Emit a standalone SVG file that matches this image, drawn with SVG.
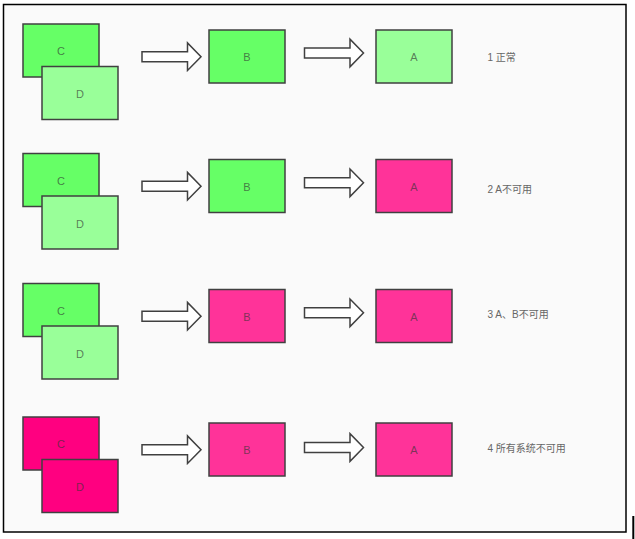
<svg xmlns="http://www.w3.org/2000/svg" width="635" height="539" viewBox="0 0 635 539">
<style>
.n{stroke:#404040;stroke-width:1.5}
.g1{fill:#66ff66}.g2{fill:#99ff99}.p1{fill:#ff3399}.p2{fill:#ff0080}
.nt{font-family:"Liberation Sans","Noto Sans CJK SC",sans-serif;font-size:11px;fill:#333;fill-opacity:0.65;text-anchor:middle}
.lb{font-family:"Liberation Sans","Noto Sans CJK SC",sans-serif;font-size:10px;fill:#666}
.ar{fill:#ffffff;stroke:#404040;stroke-width:1.5;stroke-linejoin:miter}
</style>
<defs>
<path id="arrow" d="M0,-5 H45.5 V-13.8 L59,0 L45.5,13.8 V5 H0 Z"/>
</defs>
<rect x="3.5" y="4.5" width="622.5" height="527.5" fill="#fafafa" stroke="#000" stroke-width="1.5"/>
<line x1="633.3" y1="516" x2="633.3" y2="539" stroke="#000" stroke-width="2"/>

<g id="row1">
<g id="r1-C"><rect class="n g1" x="23" y="24" width="76" height="53"/><text class="nt" x="61" y="55">C</text></g>
<g id="r1-D"><rect class="n g2" x="42" y="66.5" width="76" height="53"/><text class="nt" x="80" y="98">D</text></g>
<g id="r1-B"><rect class="n g1" x="209" y="30" width="76" height="53"/><text class="nt" x="247" y="61">B</text></g>
<g id="r1-A"><rect class="n g2" x="376" y="30" width="76" height="53"/><text class="nt" x="414" y="61">A</text></g>
<text class="lb" x="487.5" y="60.5">1 正常</text>
</g>

<g id="row2" transform="translate(0,129.5)">
<g id="r2-C"><rect class="n g1" x="23" y="24" width="76" height="53"/><text class="nt" x="61" y="55">C</text></g>
<g id="r2-D"><rect class="n g2" x="42" y="66.5" width="76" height="53"/><text class="nt" x="80" y="98">D</text></g>
<g id="r2-B"><rect class="n g1" x="209" y="30" width="76" height="53"/><text class="nt" x="247" y="61">B</text></g>
<g id="r2-A"><rect class="n p1" x="376" y="30" width="76" height="53"/><text class="nt" x="414" y="61">A</text></g>
<text class="lb" x="487.5" y="63.5">2 A不可用</text>
</g>

<g id="row3" transform="translate(0,259.5)">
<g id="r3-C"><rect class="n g1" x="23" y="24" width="76" height="53"/><text class="nt" x="61" y="55">C</text></g>
<g id="r3-D"><rect class="n g2" x="42" y="66.5" width="76" height="53"/><text class="nt" x="80" y="98">D</text></g>
<g id="r3-B"><rect class="n p1" x="209" y="30" width="76" height="53"/><text class="nt" x="247" y="61">B</text></g>
<g id="r3-A"><rect class="n p1" x="376" y="30" width="76" height="53"/><text class="nt" x="414" y="61">A</text></g>
<text class="lb" x="487.5" y="58.5">3 A、B不可用</text>
</g>

<g id="row4" transform="translate(0,393)">
<g id="r4-C"><rect class="n p2" x="23" y="24" width="76" height="53"/><text class="nt" x="61" y="55">C</text></g>
<g id="r4-D"><rect class="n p2" x="42" y="66.5" width="76" height="53"/><text class="nt" x="80" y="98">D</text></g>
<g id="r4-B"><rect class="n p1" x="209" y="30" width="76" height="53"/><text class="nt" x="247" y="61">B</text></g>
<g id="r4-A"><rect class="n p1" x="376" y="30" width="76" height="53"/><text class="nt" x="414" y="61">A</text></g>
<text class="lb" x="487.5" y="58.5">4 所有系统不可用</text>
</g>

<g id="connectors">
<use href="#arrow" class="ar" x="142" y="56.7"/>
<use href="#arrow" class="ar" x="304.5" y="53"/>
<use href="#arrow" class="ar" x="142" y="186.2"/>
<use href="#arrow" class="ar" x="304.5" y="182.8"/>
<use href="#arrow" class="ar" x="142" y="316.2"/>
<use href="#arrow" class="ar" x="304.5" y="312.8"/>
<use href="#arrow" class="ar" x="142" y="449.7"/>
<use href="#arrow" class="ar" x="304.5" y="447.5"/>
</g>
</svg>
